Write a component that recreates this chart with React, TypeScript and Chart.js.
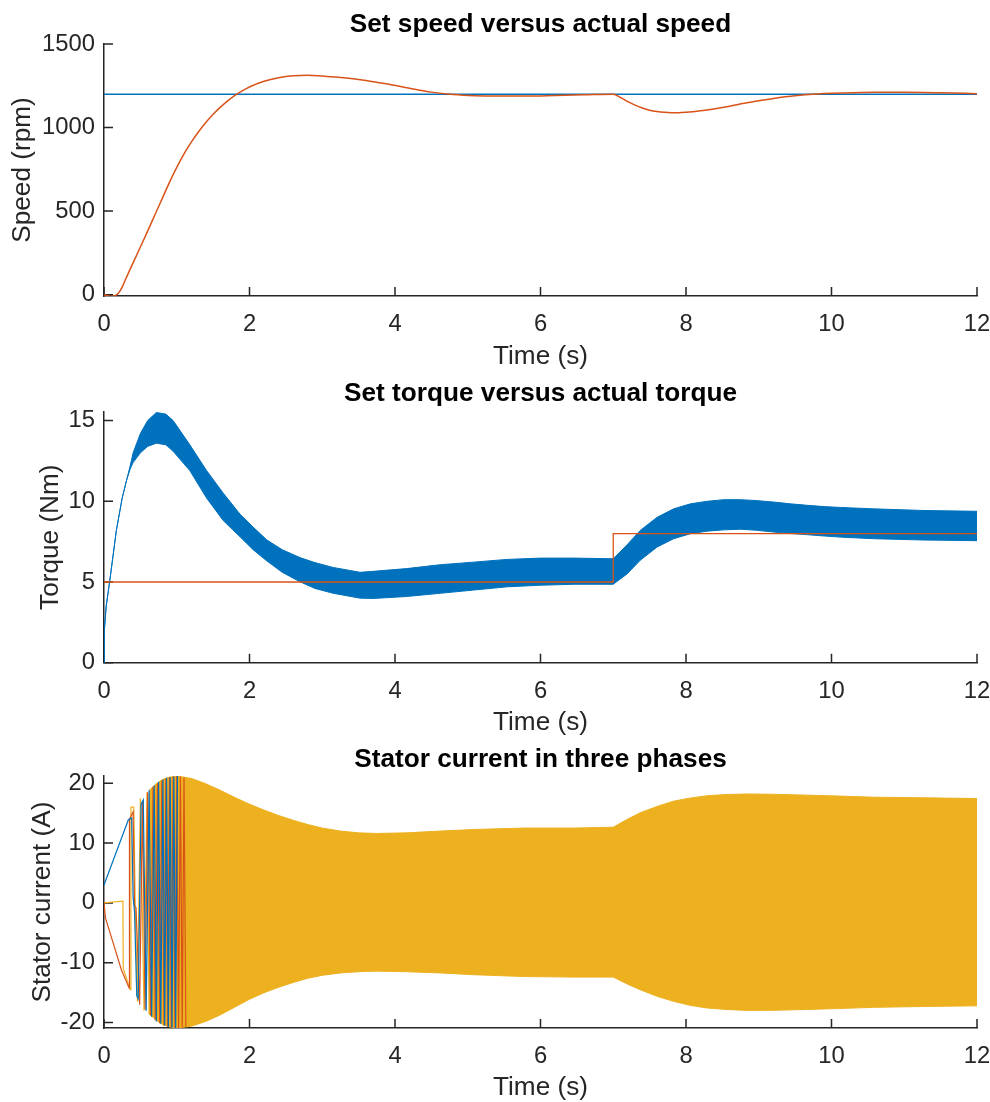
import React, { useEffect, useRef } from "react";
import { Chart, registerables } from "chart.js";

Chart.register(...registerables);

const FONT = "'Liberation Sans', Arial, Helvetica, sans-serif";
const AX = "#262626";
const BLUE = "#0072BD";
const ORANGE = "#D95319";
const YELLOW = "#EDB120";
const TICK_SIZE = 23.8;
const LABEL_SIZE = 26.2;

// ---------- shared ----------
const timeTicks = [0, 2, 4, 6, 8, 10, 12];

// ---------- speed panel ----------
const speedTicks = [0, 500, 1000, 1500];
const setSpeedT = [0, 12];
const setSpeedV = [1200, 1200];
const actSpeedT = [0, 0.05, 0.1, 0.15, 0.2, 0.25, 0.3, 0.4, 0.5, 0.6, 0.7, 0.8, 0.9, 1.0, 1.1, 1.2, 1.3, 1.4, 1.5, 1.6, 1.7, 1.8, 1.9, 2.0, 2.2, 2.4, 2.6, 2.8, 3.0, 3.3, 3.6, 3.9, 4.2, 4.5, 4.8, 5.1, 5.4, 5.8, 6.2, 6.6, 7.0, 7.1, 7.2, 7.3, 7.4, 7.5, 7.6, 7.7, 7.8, 7.9, 8.0, 8.2, 8.4, 8.6, 8.8, 9.0, 9.2, 9.4, 9.6, 9.8, 10.0, 10.3, 10.6, 11.0, 11.5, 12.0];
const actSpeedV = [0, -7, -10, -6, 10, 45, 95, 190, 285, 380, 478, 575, 672, 762, 843, 913, 975, 1030, 1079, 1122, 1160, 1193, 1220, 1243, 1277, 1298, 1310, 1313, 1308, 1298, 1282, 1260, 1235, 1212, 1198, 1191, 1189, 1189, 1192, 1196, 1200, 1180, 1155, 1134, 1117, 1104, 1096, 1091, 1089, 1089, 1091, 1100, 1113, 1128, 1145, 1160, 1174, 1186, 1195, 1201, 1205, 1209, 1211, 1211, 1208, 1203];

// ---------- torque panel ----------
const torqueTicks = [0, 5, 10, 15];
const setTorqueT = [0, 7.0, 7.0, 12];
const setTorqueV = [5, 5, 8, 8];
const torqueEnvT = [0, 0.005, 0.03, 0.08, 0.17, 0.25, 0.31, 0.36, 0.4, 0.5, 0.6, 0.72, 0.85, 0.95, 1.18, 1.41, 1.64, 1.87, 2.05, 2.24, 2.45, 2.7, 2.9, 3.15, 3.52, 3.7, 4.16, 4.62, 5.08, 5.54, 6.0, 6.46, 7.0, 7.19, 7.37, 7.6, 7.83, 8.06, 8.29, 8.52, 8.75, 8.98, 9.21, 9.44, 9.67, 9.9, 10.12, 10.58, 11.27, 12.0];
const torqueUpper = [0, 2.0, 3.5, 5.1, 8.2, 10.2, 11.3, 12.2, 13.0, 14.2, 15.0, 15.5, 15.4, 15.0, 13.5, 11.9, 10.5, 9.2, 8.4, 7.6, 7.0, 6.5, 6.2, 5.9, 5.6, 5.66, 5.83, 6.07, 6.23, 6.4, 6.48, 6.48, 6.44, 7.3, 8.19, 9.0, 9.53, 9.84, 10.0, 10.1, 10.1, 10.04, 9.95, 9.84, 9.75, 9.67, 9.62, 9.53, 9.43, 9.38];
const torqueLower = [0, 2.0, 3.5, 5.1, 8.2, 10.2, 11.3, 12.0, 12.4, 13.0, 13.4, 13.6, 13.5, 13.1, 11.9, 10.2, 8.8, 7.8, 7.0, 6.3, 5.6, 5.0, 4.6, 4.3, 4.0, 3.98, 4.1, 4.3, 4.5, 4.7, 4.8, 4.86, 4.86, 5.5, 6.34, 7.16, 7.68, 7.99, 8.15, 8.23, 8.27, 8.2, 8.09, 8.0, 7.93, 7.85, 7.78, 7.68, 7.6, 7.56];

// ---------- current panel ----------
const currentTicks = [-20, -10, 0, 10, 20];
const phaseAT = [0, 0.335, 0.38, 0.40, 0.42, 0.45, 0.47, 0.51, 0.54, 0.58, 0.62, 0.655, 0.69, 0.72, 0.75, 0.78, 0.81, 0.835, 0.86, 0.885, 0.91, 0.935, 0.96, 0.985, 1.01];
const phaseAV = [3.0, 13.9, 14.2, 1.0, -1.5, -15.5, -16.0, 16.5, 17.2, -18.0, 18.8, -19.0, 19.6, -19.8, 20.2, -20.2, 20.6, -20.5, 20.9, -20.7, 21.0, -20.8, 21.1, -20.9, 21.2];
const phaseBT = [0, 0.02, 0.24, 0.345, 0.35, 0.40, 0.42, 0.44, 0.49, 0.53, 0.565, 0.60, 0.64, 0.675, 0.705, 0.735, 0.765, 0.795, 0.825, 0.85, 0.875, 0.90, 0.925, 0.95, 0.975, 1.0, 1.025, 1.05, 1.075, 1.1, 1.125];
const phaseBV = [0, -2.5, -11.2, -14.2, 14.0, 15.2, -0.5, -0.8, -17.0, 17.0, -17.8, 18.5, -18.8, 19.4, -19.6, 20.0, -20.1, 20.5, -20.5, 20.8, -20.7, 21.0, -20.8, 21.1, -20.9, 21.2, -20.9, 21.1, -20.8, 21.0, -20.7];
const phaseCT = [0, 0.26, 0.265, 0.36, 0.37, 0.41, 0.43, 0.46, 0.50, 0.55, 0.59, 0.62];
const phaseCV = [0, 0.3, -11.0, -14.5, 16.0, 16.0, -1.0, -16.5, 17.5, -18.0, 18.5, -18.6];
const currentEnvT = [0.62, 0.68, 0.75, 0.82, 0.9, 1.0, 1.2, 1.4, 1.6, 1.8, 2.0, 2.2, 2.4, 2.6, 2.8, 3.0, 3.25, 3.5, 3.75, 4.16, 4.62, 5.08, 5.77, 6.46, 7.0, 7.2, 7.37, 7.6, 7.83, 8.05, 8.29, 8.55, 8.84, 9.2, 9.67, 10.1, 10.58, 11.3, 12.0];
const currentUpper = [18.8, 19.5, 20.2, 20.7, 21.0, 21.2, 20.8, 19.9, 18.8, 17.6, 16.5, 15.5, 14.6, 13.8, 13.1, 12.5, 12.0, 11.7, 11.6, 11.7, 12.0, 12.26, 12.5, 12.5, 12.65, 14.0, 15.05, 16.1, 17.0, 17.5, 17.9, 18.1, 18.2, 18.15, 18.0, 17.85, 17.66, 17.55, 17.44];
const currentLower = [-18.6, -19.2, -19.9, -20.4, -20.7, -20.9, -20.6, -19.8, -18.7, -17.4, -16.1, -15.0, -14.1, -13.3, -12.6, -12.1, -11.7, -11.5, -11.4, -11.5, -11.7, -12.0, -12.3, -12.4, -12.4, -13.6, -14.5, -15.6, -16.45, -17.1, -17.56, -17.8, -17.96, -17.95, -17.8, -17.65, -17.45, -17.3, -17.2];

const pts = (t: number[], v: number[]) => t.map((x, i) => ({ x, y: v[i] }));

const inwardTicks = {
  id: "inwardTicks",
  beforeDatasetsDraw(chart: any) {
    const { ctx, chartArea: a, scales } = chart;
    const xs = scales.x;
    const ys = scales.y;
    ctx.save();
    ctx.strokeStyle = AX;
    ctx.lineWidth = 1.5;
    ctx.beginPath();
    xs.ticks.forEach((tk: any) => {
      const p = xs.getPixelForValue(tk.value);
      ctx.moveTo(p, a.bottom);
      ctx.lineTo(p, a.bottom - 9);
    });
    ys.ticks.forEach((tk: any) => {
      const p = ys.getPixelForValue(tk.value);
      ctx.moveTo(a.left, p);
      ctx.lineTo(a.left + 9, p);
    });
    ctx.stroke();
    ctx.restore();
  },
};

type Spec = {
  title: string;
  titlePadTop: number;
  titlePadBottom: number;
  yTitle: string;
  yTitlePad: number;
  yMin: number;
  yMax: number;
  yTicks: number[];
  xAxisH: number;
  xTitlePad: number;
  datasets: any[];
};

function makeConfig(s: Spec): any {
  return {
    type: "line",
    data: { datasets: s.datasets },
    plugins: [inwardTicks],
    options: {
      responsive: false,
      animation: false,
      events: [],
      layout: { padding: { left: 0, right: 13, top: 0, bottom: 0 } },
      elements: { point: { radius: 0 } },
      plugins: {
        legend: { display: false },
        tooltip: { enabled: false },
        title: {
          display: true,
          fullSize: false,
          text: s.title,
          color: "#000",
          font: { family: FONT, size: LABEL_SIZE, weight: "bold", lineHeight: 1.2 },
          padding: { top: s.titlePadTop, bottom: s.titlePadBottom },
        },
      },
      scales: {
        x: {
          type: "linear",
          min: 0,
          max: 12,
          afterBuildTicks: (sc: any) => {
            sc.ticks = timeTicks.map((v) => ({ value: v }));
          },
          afterFit: (sc: any) => {
            sc.height = s.xAxisH;
            sc.paddingLeft = 0;
            sc.paddingRight = 0;
          },
          grid: { display: false, drawTicks: false },
          border: { display: true, color: AX, width: 1.5 },
          ticks: {
            color: AX,
            font: { family: FONT, size: TICK_SIZE, lineHeight: 1.2 },
            padding: 14,
            maxRotation: 0,
            autoSkip: false,
            callback: (v: any) => String(v),
          },
          title: {
            display: true,
            text: "Time (s)",
            color: AX,
            font: { family: FONT, size: LABEL_SIZE, lineHeight: 1.2 },
            padding: { top: 0, bottom: s.xTitlePad },
          },
        },
        y: {
          type: "linear",
          min: s.yMin,
          max: s.yMax,
          afterBuildTicks: (sc: any) => {
            sc.ticks = s.yTicks.map((v) => ({ value: v }));
          },
          afterFit: (sc: any) => {
            sc.width = 104;
            sc.paddingTop = 0;
            sc.paddingBottom = 0;
          },
          grid: { display: false, drawTicks: false },
          border: { display: true, color: AX, width: 1.5 },
          ticks: {
            color: AX,
            font: { family: FONT, size: TICK_SIZE, lineHeight: 1.2 },
            padding: 9,
            autoSkip: false,
            callback: (v: any) => String(v),
          },
          title: {
            display: true,
            text: s.yTitle,
            color: AX,
            font: { family: FONT, size: LABEL_SIZE, lineHeight: 1.2 },
            padding: { top: s.yTitlePad, bottom: 0 },
          },
        },
      },
    },
  };
}

const makeSpeed = () =>
  makeConfig({
    title: "Set speed versus actual speed",
    titlePadTop: 9,
    titlePadBottom: 3.56,
    yTitle: "Speed (rpm)",
    yTitlePad: 7.5,
    yMin: -8,
    yMax: 1500,
    yTicks: speedTicks,
    xAxisH: 76,
    xTitlePad: 0,
    datasets: [
      {
        data: pts(actSpeedT, actSpeedV),
        borderColor: ORANGE,
        borderWidth: 1.5,
        cubicInterpolationMode: "monotone",
        fill: false,
      },
      {
        data: pts(setSpeedT, setSpeedV),
        borderColor: BLUE,
        borderWidth: 1.5,
        fill: false,
      },
    ],
  });

const makeTorque = () =>
  makeConfig({
    title: "Set torque versus actual torque",
    titlePadTop: 9.8,
    titlePadBottom: 2.46,
    yTitle: "Torque (Nm)",
    yTitlePad: 35.5,
    yMin: 0,
    yMax: 15.55,
    yTicks: torqueTicks,
    xAxisH: 75.3,
    xTitlePad: 0,
    datasets: [
      {
        data: pts(setTorqueT, setTorqueV),
        borderColor: ORANGE,
        borderWidth: 1.3,
        fill: false,
      },
      {
        data: pts(torqueEnvT, torqueUpper),
        borderColor: BLUE,
        borderWidth: 1,
        fill: false,
      },
      {
        data: pts(torqueEnvT, torqueLower),
        borderColor: BLUE,
        borderWidth: 1,
        backgroundColor: BLUE,
        fill: "-1",
      },
    ],
  });

const makeCurrent = () =>
  makeConfig({
    title: "Stator current in three phases",
    titlePadTop: 12,
    titlePadBottom: 0.56,
    yTitle: "Stator current (A)",
    yTitlePad: 27.3,
    yMin: -20.9,
    yMax: 21.2,
    yTicks: currentTicks,
    xAxisH: 76,
    xTitlePad: 0.8,
    datasets: [
      {
        data: pts(phaseAT, phaseAV),
        borderColor: BLUE,
        borderWidth: 1.2,
        fill: false,
      },
      {
        data: pts(phaseBT, phaseBV),
        borderColor: ORANGE,
        borderWidth: 1.2,
        fill: false,
      },
      {
        data: pts(phaseCT, phaseCV),
        borderColor: YELLOW,
        borderWidth: 1.2,
        fill: false,
      },
      {
        data: pts(currentEnvT, currentUpper),
        borderColor: YELLOW,
        borderWidth: 1,
        fill: false,
      },
      {
        data: pts(currentEnvT, currentLower),
        borderColor: YELLOW,
        borderWidth: 1,
        backgroundColor: YELLOW,
        fill: "-1",
      },
    ],
  });

function Panel({ top, height, make }: { top: number; height: number; make: () => any }) {
  const ref = useRef<HTMLCanvasElement>(null);
  useEffect(() => {
    const chart = new Chart(ref.current as HTMLCanvasElement, make());
    return () => chart.destroy();
  }, []);
  return (
    <canvas
      ref={ref}
      width={990}
      height={height}
      style={{ position: "absolute", left: 0, top, width: 990, height, display: "block" }}
    />
  );
}

export default function App() {
  return (
    <div
      style={{
        position: "fixed",
        left: 0,
        top: 0,
        width: 990,
        height: 1102,
        background: "#fff",
        overflow: "hidden",
      }}
    >
      <Panel top={0} height={372} make={makeSpeed} />
      <Panel top={368} height={370} make={makeTorque} />
      <Panel top={732} height={372} make={makeCurrent} />
    </div>
  );
}
